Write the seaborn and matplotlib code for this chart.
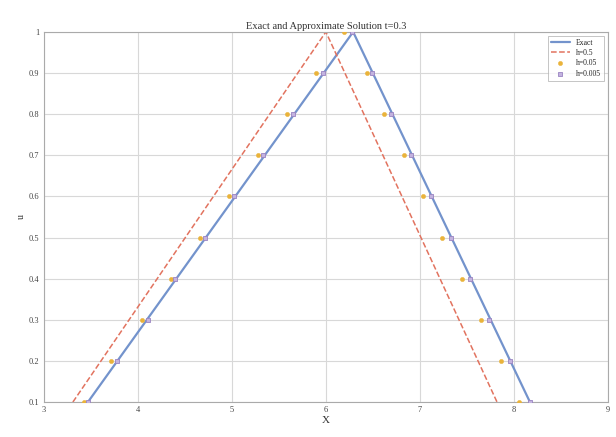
import matplotlib
matplotlib.use("Agg")
import matplotlib.pyplot as plt
import seaborn as sns
import pandas as pd

# ---- data ----
exact_x = [3.47, 6.29, 8.17]
exact_y = [0.1, 1.0, 0.1]

h05_x = [3.31, 6.0, 7.82]
h05_y = [0.1, 1.0, 0.1]

h005b_x = [3.43, 3.72, 4.05, 4.35, 4.66, 4.97, 5.28, 5.59, 5.89, 6.19,
           6.44, 6.62, 6.83, 7.03, 7.24, 7.45, 7.65, 7.86, 8.05]
h005b_y = [0.1, 0.2, 0.3, 0.4, 0.5, 0.6, 0.7, 0.8, 0.9, 1.0,
           0.9, 0.8, 0.7, 0.6, 0.5, 0.4, 0.3, 0.2, 0.1]

h0005_x = [3.47, 3.78, 4.11, 4.40, 4.71, 5.02, 5.33, 5.65, 5.97, 6.28,
           6.49, 6.69, 6.90, 7.12, 7.33, 7.53, 7.74, 7.96, 8.17]
h0005_y = [0.1, 0.2, 0.3, 0.4, 0.5, 0.6, 0.7, 0.8, 0.9, 1.0,
           0.9, 0.8, 0.7, 0.6, 0.5, 0.4, 0.3, 0.2, 0.1]

x_ticks = [3, 4, 5, 6, 7, 8, 9]
y_ticks = [0.1, 0.2, 0.3, 0.4, 0.5, 0.6, 0.7, 0.8, 0.9, 1.0]
y_tick_labels = ["0.1", "0.2", "0.3", "0.4", "0.5", "0.6", "0.7", "0.8", "0.9", "1"]

sns.set_theme(style="whitegrid")
plt.rcParams['font.family'] = ['Liberation Serif', 'DejaVu Serif']

fig = plt.figure(figsize=(6.16, 4.37), dpi=100)
ax = fig.add_axes([0.071, 0.080, 0.916, 0.847])

df_exact = pd.DataFrame({"x": exact_x, "y": exact_y})
df_h05 = pd.DataFrame({"x": h05_x, "y": h05_y})
df_b = pd.DataFrame({"x": h005b_x, "y": h005b_y})
df_c = pd.DataFrame({"x": h0005_x, "y": h0005_y})

sns.lineplot(data=df_exact, x="x", y="y", ax=ax, color="#7393cc", lw=1.6,
             sort=False, label="Exact")
sns.lineplot(data=df_h05, x="x", y="y", ax=ax, color="#e2735f", lw=1.1,
             sort=False, label="h=0.5", dashes=False, linestyle="--")
sns.scatterplot(data=df_b, x="x", y="y", ax=ax, color="#eab33a", s=10,
                marker="o", edgecolor="#eab33a", label="h=0.05", zorder=4)
sns.scatterplot(data=df_c, x="x", y="y", ax=ax, color="#c3b3df", s=8,
                marker="s", edgecolor="#9a84c2", linewidth=0.6,
                label="h=0.005", zorder=4)

ax.set_xlim(3, 9)
ax.set_ylim(0.1, 1.0)
ax.set_xticks(x_ticks)
ax.set_xticklabels([str(v) for v in x_ticks])
ax.set_yticks(y_ticks)
ax.set_yticklabels(y_tick_labels)
ax.tick_params(axis="both", labelsize=6, length=2, direction="in", pad=3,
               colors="#444444")
ax.grid(True, color="#d8d8d8", lw=0.8)
for s in ax.spines.values():
    s.set_color("#aaaaaa")
    s.set_linewidth(0.8)

ax.set_title("Exact and Approximate Solution t=0.3", fontsize=7.5, pad=2,
             color="#333333")
ax.set_xlabel("X", fontsize=8, labelpad=1, color="#333333")
ax.set_ylabel("u", fontsize=7, labelpad=2, color="#333333")

leg = ax.legend(loc="upper right", fontsize=5.5, frameon=True, fancybox=False,
                borderpad=0.4, handlelength=2.5, labelspacing=0.3)
leg.get_frame().set_edgecolor("#aaaaaa")
leg.get_frame().set_linewidth(0.6)

fig.savefig("out.png", dpi=100)
